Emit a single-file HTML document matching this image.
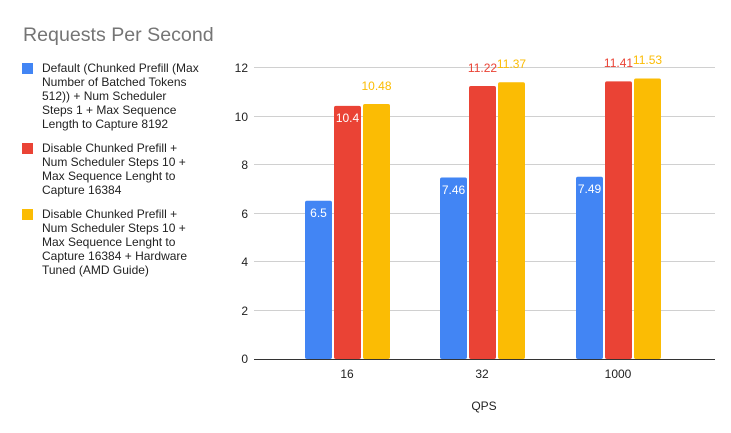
<!DOCTYPE html><html><head><style>body{margin:0;background:#fff;}svg{display:block;font-family:"Liberation Sans",Arial,sans-serif;}</style></head><body>
<svg width="731" height="433" viewBox="0 0 731 433">
<text x="23" y="41" font-size="19.6" fill="#757575">Requests Per Second</text>
<g font-size="12" fill="#222">
<rect x="22" y="63" width="11" height="11" fill="#4285f4"/>
<text x="42" y="72">Default (Chunked Prefill (Max</text><text x="42" y="86">Number of Batched Tokens</text><text x="42" y="100">512)) + Num Scheduler</text><text x="42" y="114">Steps 1 + Max Sequence</text><text x="42" y="128">Length to Capture 8192</text>
<rect x="22" y="143" width="11" height="11" fill="#ea4335"/>
<text x="42" y="152">Disable Chunked Prefill +</text><text x="42" y="166">Num Scheduler Steps 10 +</text><text x="42" y="180">Max Sequence Lenght to</text><text x="42" y="194">Capture 16384</text>
<rect x="22" y="209" width="11" height="11" fill="#fbbc04"/>
<text x="42" y="218">Disable Chunked Prefill +</text><text x="42" y="232">Num Scheduler Steps 10 +</text><text x="42" y="246">Max Sequence Lenght to</text><text x="42" y="260">Capture 16384 + Hardware</text><text x="42" y="274">Tuned (AMD Guide)</text>
</g>
<g stroke="#d0d0d0" stroke-width="1">
<line x1="254" x2="715" y1="67.5" y2="67.5"/><line x1="254" x2="715" y1="116.5" y2="116.5"/><line x1="254" x2="715" y1="164.5" y2="164.5"/><line x1="254" x2="715" y1="213.5" y2="213.5"/><line x1="254" x2="715" y1="261.5" y2="261.5"/><line x1="254" x2="715" y1="310.5" y2="310.5"/>
</g>
<g font-size="12" fill="#222" text-anchor="end">
<text x="248" y="72">12</text><text x="248" y="121">10</text><text x="248" y="169">8</text><text x="248" y="218">6</text><text x="248" y="266">4</text><text x="248" y="315">2</text><text x="248" y="363">0</text>
</g>
<g>
<rect x="305" y="200.8" width="27" height="158.2" rx="2" fill="#4285f4"/>
<rect x="334" y="105.9" width="27" height="253.1" rx="2" fill="#ea4335"/>
<rect x="363" y="104" width="27" height="255" rx="2" fill="#fbbc04"/>
<rect x="440" y="177.5" width="27" height="181.5" rx="2" fill="#4285f4"/>
<rect x="469" y="86" width="27" height="273" rx="2" fill="#ea4335"/>
<rect x="498" y="82.3" width="27" height="276.7" rx="2" fill="#fbbc04"/>
<rect x="576" y="176.7" width="27" height="182.3" rx="2" fill="#4285f4"/>
<rect x="605" y="81.4" width="27" height="277.6" rx="2" fill="#ea4335"/>
<rect x="634" y="78.5" width="27" height="280.5" rx="2" fill="#fbbc04"/>
</g>
<line x1="254" x2="715" y1="359.5" y2="359.5" stroke="#333" stroke-width="1"/>
<g font-size="12" text-anchor="middle">
<text x="318.5" y="217" fill="#fff">6.5</text>
<text x="347.5" y="122" fill="#fff">10.4</text>
<text x="376.5" y="90" fill="#fbbc04">10.48</text>
<text x="453.5" y="194" fill="#fff">7.46</text>
<text x="482.5" y="72" fill="#ea4335">11.22</text>
<text x="511.5" y="68" fill="#fbbc04">11.37</text>
<text x="589.5" y="193" fill="#fff">7.49</text>
<text x="618.5" y="67" fill="#ea4335">11.41</text>
<text x="647.5" y="64" fill="#fbbc04">11.53</text>
</g>
<g font-size="12" fill="#222" text-anchor="middle">
<text x="347" y="378">16</text><text x="482" y="378">32</text><text x="618" y="378">1000</text>
<text x="484" y="410">QPS</text>
</g>
</svg></body></html>
